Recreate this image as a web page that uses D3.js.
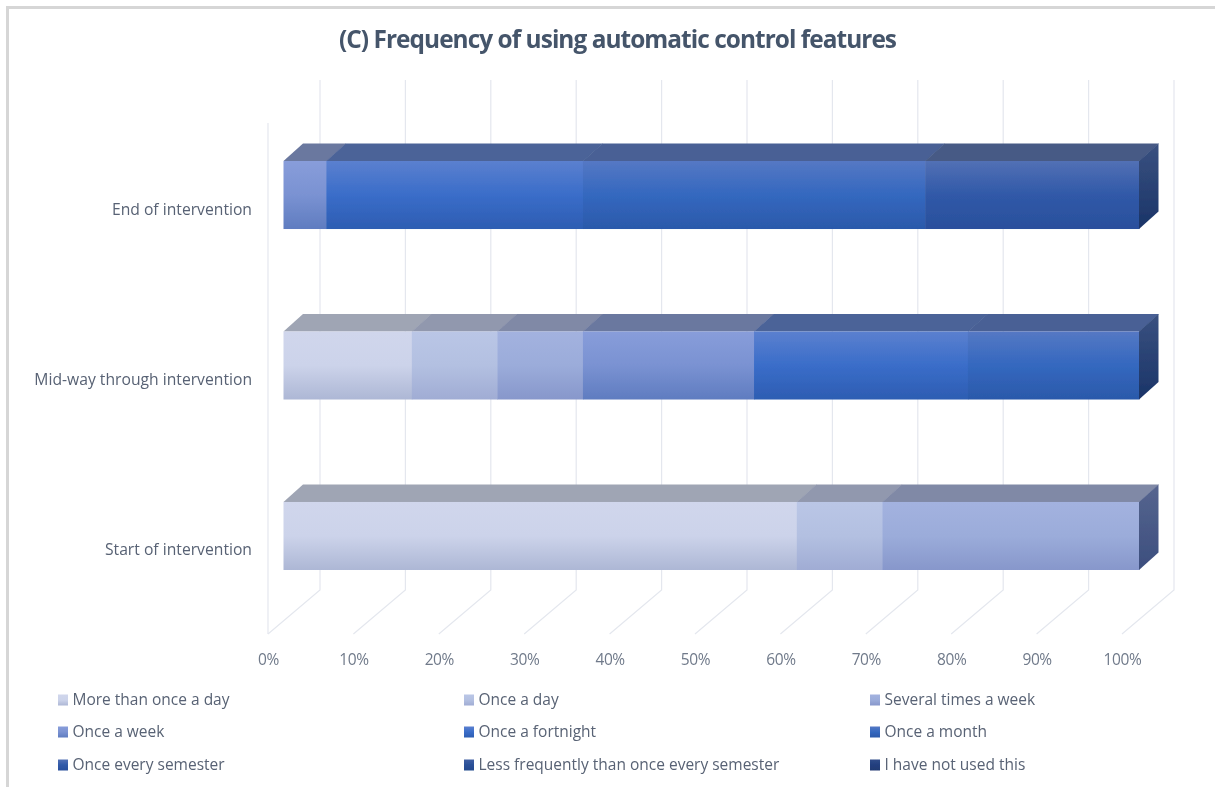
<!DOCTYPE html>
<html>
<head>
<meta charset="utf-8">
<script src="https://cdn.jsdelivr.net/npm/d3@7"></script>
<style>
  html, body { margin: 0; padding: 0; background: #fff; }
  svg { display: block; }
  text { font-family: "Open Sans", sans-serif; }
</style>
</head>
<body>
<div id="chart"></div>
<script>
var categories = ['End of intervention', 'Mid-way through intervention', 'Start of intervention']
var seriesNames = [
  'More than once a day', 'Once a day', 'Several times a week',
  'Once a week', 'Once a fortnight', 'Once a month',
  'Once every semester', 'Less frequently than once every semester', 'I have not used this'
]
// percent of respondents, same order as categories
var moreThanOnceADay = [0, 15, 60]
var onceADay = [0, 10, 10]
var severalTimesAWeek = [0, 10, 30]
var onceAWeek = [5, 20, 0]
var onceAFortnight = [30, 25, 0]
var onceAMonth = [40, 20, 0]
var onceEverySemester = [25, 0, 0]
var lessFrequently = [0, 0, 0]
var notUsed = [0, 0, 0]
var percentTicks = [0, 10, 20, 30, 40, 50, 60, 70, 80, 90, 100]

var seriesValues = [moreThanOnceADay, onceADay, severalTimesAWeek, onceAWeek, onceAFortnight,
  onceAMonth, onceEverySemester, lessFrequently, notUsed]

// front gradient top / middle / bottom, then top face and side face
var palette = [
  { f: ['#d0d6ec', '#ccd3ea', '#adb7d5'], top: '#9fa5b4', side: ['#7d87a8', '#5d6a94'] },
  { f: ['#bac6e6', '#b3c0e1', '#a0acd4'], top: '#9198ae', side: ['#6c7aa2', '#515f8e'] },
  { f: ['#a3b2df', '#9bacda', '#8797cb'], top: '#8089a6', side: ['#56658f', '#3c4e7e'] },
  { f: ['#889dda', '#7a92d2', '#5f7cc0'], top: '#6b789f', side: ['#4c6093', '#34487c'] },
  { f: ['#5b80cf', '#3a6dc9', '#2d5db2'], top: '#4b6398', side: ['#365590', '#1e3c78'] },
  { f: ['#5578c4', '#3468bf', '#2b59aa'], top: '#486095', side: ['#3a5180', '#1a3468'] },
  { f: ['#5270b5', '#3059a8', '#2a4f9c'], top: '#465a85', side: ['#3a5180', '#1a3468'] },
  { f: ['#3f5fa3', '#2a5098', '#264a8e'], top: '#3c4f7c', side: ['#2c4574', '#1a3264'] },
  { f: ['#2f4c8a', '#233f7e', '#1f3a72'], top: '#33446c', side: ['#263c66', '#162b58'] }
]

var width = 1215, height = 787
var svg = d3.select('#chart').append('svg').attr('width', width).attr('height', height)
var defs = svg.append('defs')

var soft = defs.append('filter').attr('id', 'soft').attr('x', '-5%').attr('y', '-5%')
  .attr('width', '110%').attr('height', '110%')
soft.append('feGaussianBlur').attr('stdDeviation', 0.6)

palette.forEach(function (p, i) {
  var g = defs.append('linearGradient').attr('id', 'front' + i)
    .attr('x1', 0).attr('y1', 0).attr('x2', 0).attr('y2', 1)
  g.append('stop').attr('offset', '0%').attr('stop-color', p.f[0])
  g.append('stop').attr('offset', '50%').attr('stop-color', p.f[1])
  g.append('stop').attr('offset', '100%').attr('stop-color', p.f[2])
  var s = defs.append('linearGradient').attr('id', 'side' + i)
    .attr('x1', 0).attr('y1', 0).attr('x2', 0).attr('y2', 1)
  s.append('stop').attr('offset', '0%').attr('stop-color', p.side[0])
  s.append('stop').attr('offset', '100%').attr('stop-color', p.side[1])
})

var root = svg.append('g').attr('filter', 'url(#soft)')

// page frame, only left and top show
root.append('path').attr('d', 'M7.5,787V7.5H1215').attr('fill', 'none')
  .attr('stroke', '#d6d6d6').attr('stroke-width', 3)

root.append('text').attr('x', 617.5).attr('y', 48).attr('text-anchor', 'middle')
  .attr('font-size', 24.4).attr('font-weight', 700).attr('fill', '#44546a')
  .attr('letter-spacing', -0.95)
  .text('(C) Frequency of using automatic control features')

// three x scales: floor front edge, back wall, and the bar fronts
var xFloor = d3.scaleLinear().domain([0, 100]).range([268, 1122])
var xWall = d3.scaleLinear().domain([0, 100]).range([320, 1174])
var xBar = d3.scaleLinear().domain([0, 100]).range([283.5, 1139])
var yLabel = d3.scaleBand().domain(categories).range([125, 635])
var yBar = d3.scaleBand().domain(categories).range([161, 570]).paddingInner(0.601)

var wallTop = 80, wallBottom = 590, floorFront = 634
var barDx = 19.5, barDy = 17.5

// gridlines
var grid = root.append('g').attr('fill', 'none').attr('stroke', '#e4e7ee').attr('stroke-width', 1.2)
grid.selectAll('path.wall').data(percentTicks).enter().append('path').attr('class', 'wall')
  .attr('d', function (d) {
    return 'M' + xWall(d) + ',' + wallTop + 'V' + wallBottom + 'L' + xFloor(d) + ',' + floorFront
  })
grid.append('path').attr('d', 'M' + xFloor(0) + ',123V' + floorFront)

// stacked bars
var table = categories.map(function (c, i) {
  var row = { category: c }
  seriesNames.forEach(function (s, j) { row[s] = seriesValues[j][i] })
  return row
})
var stacked = d3.stack().keys(seriesNames)(table)

var layers = root.selectAll('g.layer').data(stacked).enter().append('g').attr('class', 'layer')

var segments = function (layer) {
  return layer.filter(function (d) { return d[1] > d[0] })
}

layers.each(function (layer, i) {
  var g = d3.select(this)
  var segs = segments(layer)
  g.selectAll('path.topface').data(segs).enter().append('path').attr('class', 'topface')
    .attr('fill', palette[i].top)
    .attr('d', function (d) {
      var y0 = yBar(d.data.category), a = xBar(d[0]), b = xBar(d[1])
      return 'M' + a + ',' + y0 + 'L' + (a + barDx) + ',' + (y0 - barDy) +
        'H' + (b + barDx + 0.5) + 'L' + (b + 0.5) + ',' + y0 + 'Z'
    })
  g.selectAll('rect.front').data(segs).enter().append('rect').attr('class', 'front')
    .attr('x', function (d) { return xBar(d[0]) })
    .attr('y', function (d) { return yBar(d.data.category) })
    .attr('width', function (d) { return xBar(d[1]) - xBar(d[0]) + 0.5 })
    .attr('height', yBar.bandwidth())
    .attr('fill', 'url(#front' + i + ')')
  // side face on whichever segment reaches 100%
  g.selectAll('path.sideface').data(segs.filter(function (d) { return d[1] >= 100 })).enter()
    .append('path').attr('class', 'sideface')
    .attr('fill', 'url(#side' + i + ')')
    .attr('d', function (d) {
      var y0 = yBar(d.data.category), b = xBar(d[1]), h = yBar.bandwidth()
      return 'M' + b + ',' + y0 + 'L' + (b + barDx) + ',' + (y0 - barDy) +
        'V' + (y0 - barDy + h) + 'L' + b + ',' + (y0 + h) + 'Z'
    })
})

// axes
var xAxis = root.append('g').attr('transform', 'translate(0,651)')
  .call(d3.axisBottom(xFloor).tickValues(percentTicks).tickSize(0).tickPadding(3)
    .tickFormat(function (d) { return d + '%' }))
xAxis.select('.domain').remove()
xAxis.selectAll('text').attr('font-size', 15.5).attr('fill', '#707a8a')
  .attr('font-family', '"Open Sans", sans-serif').attr('letter-spacing', -0.4)

var yAxis = root.append('g').attr('transform', 'translate(252,0)')
  .call(d3.axisLeft(yLabel).tickSize(0).tickPadding(0))
yAxis.select('.domain').remove()
yAxis.selectAll('text').attr('font-size', 15.7).attr('fill', '#586274')
  .attr('font-family', '"Open Sans", sans-serif')

// legend, 3 columns by 3 rows
var legendCols = [58, 464, 870], legendRows = [700, 732, 765]
var legend = root.selectAll('g.legend').data(seriesNames).enter().append('g').attr('class', 'legend')
  .attr('transform', function (d, i) {
    return 'translate(' + legendCols[i % 3] + ',' + legendRows[Math.floor(i / 3)] + ')'
  })
legend.append('rect').attr('x', 0).attr('y', -5.5).attr('width', 10).attr('height', 11)
  .attr('fill', function (d, i) { return 'url(#front' + i + ')' })
legend.append('text').attr('x', 14.5).attr('dy', '0.35em')
  .attr('font-size', 15.5).attr('fill', '#586274')
  .text(function (d) { return d })
</script>
</body>
</html>
